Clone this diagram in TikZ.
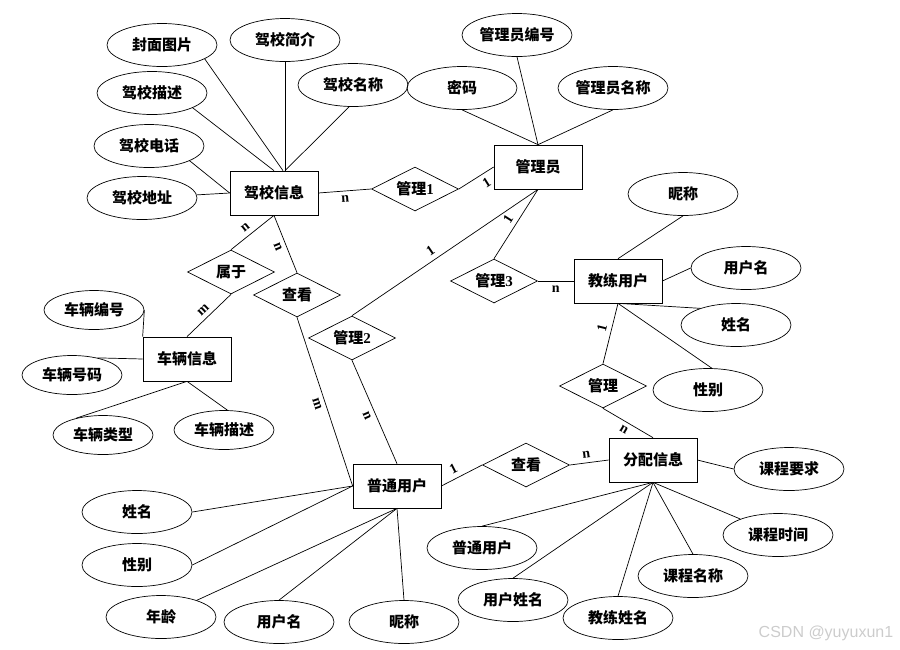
\documentclass[tikz,border=0pt]{standalone}
\usepackage{fontspec}
\setmainfont{Liberation Serif}
\newfontfamily\cjk{Noto Sans CJK SC}
\newfontfamily\wmfont{Liberation Sans}
\usetikzlibrary{positioning,shapes.geometric}

\begin{document}
\begin{tikzpicture}[
  x=1pt, y=-1pt, line width=0.7pt,
  every node/.style={font=\cjk\bfseries\fontsize{15}{18}\selectfont},
  entity/.style={rectangle, draw, minimum width=88pt, minimum height=44pt, inner sep=2pt},
  attr/.style={ellipse, draw, minimum width=110pt, minimum height=43pt, inner sep=1pt},
  sattr/.style={attr, minimum width=100pt, minimum height=39pt},
  rel/.style={diamond, draw, aspect=2, minimum width=87pt, minimum height=44pt, inner sep=0pt},
  card/.style={font=\rmfamily\bfseries\fontsize{14}{14}\selectfont, sloped, inner sep=4.5pt}
]
  \useasboundingbox (0,0) rectangle (900,649);

  % entities
  \node[entity] (jx) at (274,193) {驾校信息};
  \node[entity] (gly) at (538,167) {管理员};
  \node[entity] (cl) at (187,359) {车辆信息};
  \node[entity] (jl) at (618,281) {教练用户};
  \node[entity] (pt) at (397,486) {普通用户};
  \node[entity] (fp) at (653,460) {分配信息};

  % relations
  \node[rel] (gl1) at (415,189) {管理{\rmfamily 1}};
  \node[rel] (gl2) at (352,338) {管理{\rmfamily 2}};
  \node[rel] (gl3) at (494,281) {管理{\rmfamily 3}};
  \node[rel] (sy) at (231,272) {属于};
  \node[rel] (ck1) at (297,295) {查看};
  \node[rel] (ck2) at (526,465) {查看};
  \node[rel] (gm) at (603,386) {管理};

  % attributes of jx
  \node[attr] (fm) at (162,45) {封面图片};
  \node[attr] (jj) at (285,40) {驾校简介};
  \node[attr] (ms) at (152,93) {驾校描述};
  \node[attr] (mc) at (353,85) {驾校名称};
  \node[attr] (dh) at (149,146) {驾校电话};
  \node[attr] (dz) at (142,198) {驾校地址};

  % attributes of gly
  \node[attr] (bh) at (517,35) {管理员编号};
  \node[attr] (mm) at (462,88) {密码};
  \node[attr] (mn) at (613,88) {管理员名称};

  % attributes of cl
  \node[sattr] (cb) at (94,310) {车辆编号};
  \node[sattr] (ch) at (72,375) {车辆号码};
  \node[sattr] (ct) at (103,435) {车辆类型};
  \node[sattr] (cm) at (224,430) {车辆描述};

  % attributes of jl
  \node[attr] (jn) at (683,194) {昵称};
  \node[attr] (jy) at (746,268) {用户名};
  \node[attr] (jxm) at (736,325) {姓名};
  \node[attr] (jxb) at (708,390) {性别};

  % attributes of fp
  \node[attr] (ky) at (789,469) {课程要求};
  \node[attr] (kt) at (778,535) {课程时间};
  \node[attr] (km) at (693,576) {课程名称};
  \node[attr] (jm) at (618,618) {教练姓名};
  \node[attr] (yx) at (513,600) {用户姓名};
  \node[attr] (pu) at (482,548) {普通用户};

  % attributes of pt
  \node[attr] (xm) at (137,512) {姓名};
  \node[attr] (xb) at (137,565) {性别};
  \node[attr] (nl) at (161,617) {年龄};
  \node[attr] (yh) at (279,622) {用户名};
  \node[attr] (nc) at (404,622) {昵称};

  \node[text=gray!40, font=\wmfont\fontsize{16}{16}\selectfont] (wm) at (826,633) {CSDN @yuyuxun1};

  % attribute lines
  \draw (fm.-18) -- ([xshift=9pt]jx.north);
  \draw (jj.south) -- ([xshift=11pt]jx.north);
  \draw (ms.-20) -- (jx.north);
  \draw (mc.-100) -- ([xshift=11pt]jx.north);
  \draw (dh.-20) -- (jx.west);
  \draw (dz) -- (jx.west);

  \draw (bh.south) -- (gly.north);
  \draw (mm.south) -- (gly.north);
  \draw (mn.south) -- (gly.north);

  \draw (cb.east) -- (cl.north west);
  \draw (ch.34) -- (cl.west);
  \draw (ct.148) -- (cl.south);
  \draw (cm.80) -- (cl.south);

  \draw (jn.south) -- (jl.north);
  \draw (jy.west) -- (jl.east);
  \draw (jl.south) -- (jxm.155);
  \draw (jl.south) -- (jxb.80);

  \draw (fp.east) -- (ky.west);
  \draw (fp.south) -- (kt.157);
  \draw (fp.south) -- (km.north);
  \draw (fp.south) -- (jm.north);
  \draw (fp.south) -- (yx.north);
  \draw (fp.south) -- (pu.north);

  \draw (xm.east) -- (pt.west);
  \draw (xb.east) -- (pt.west);
  \draw (nl.25) -- (pt.south);
  \draw (yh.north) -- (pt.south);
  \draw (nc.north) -- (pt.south);

  % relation lines
  \draw (jx.east) -- node[card, below] (c1) {n} (gl1.west);
  \draw (gl1.east) -- node[card, below, pos=0.65] (c2) {1} (gly.west);
  \draw (gly.south) -- node[card, above] (c3) {1} (gl3.north);
  \draw (gly.south) -- node[card, above, pos=0.55] (c4) {1} (gl2.north);
  \draw (gl3.east) -- node[card, below] (c5) {n} (jl.west);
  \draw (jl.south) -- node[card, above, pos=0.45] (c6) {1} (gm.north);
  \draw (gm.south) -- node[card, below] (c7) {n} (fp.north);
  \draw (pt.east) -- node[card, above, pos=0.4] (c8) {1} (ck2.west);
  \draw (ck2.east) -- node[card, above, pos=0.45] (c9) {n} (fp.west);
  \draw (jx.south) -- node[card, above, pos=0.55] (c10) {n} (sy.north);
  \draw (jx.south) -- node[card, below] (c11) {n} (ck1.north);
  \draw (sy.south) -- node[card, above] (c12) {m} (cl.north);
  \draw (ck1.south) -- node[card, below] (c13) {m} (pt.west);
  \draw (gl2.south) -- node[card, below] (c14) {n} (pt.north);
\end{tikzpicture}
\end{document}
